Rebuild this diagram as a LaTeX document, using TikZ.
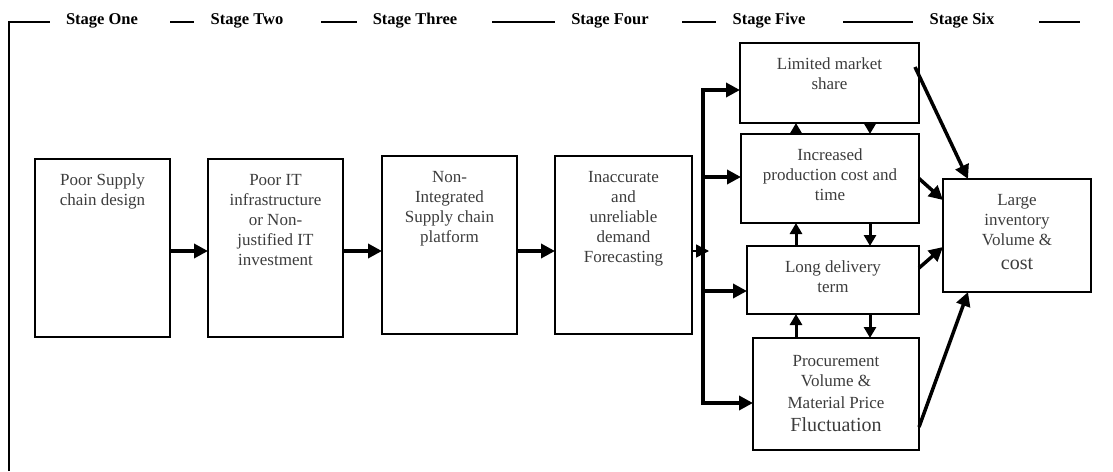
\documentclass[tikz,border=0pt]{standalone}
\usepackage{fontspec}
\setmainfont{Liberation Serif}
\usetikzlibrary{arrows.meta}
\definecolor{ink}{HTML}{3C3C3C}
\begin{document}
\begin{tikzpicture}[x=1pt,y=-1pt,
  box/.style={draw=black,line width=1.3pt,inner sep=0pt,outer sep=0pt},
  txt/.style={anchor=north,inner sep=0pt,align=center,text=ink,font=\fontsize{17}{20}\selectfont},
  stage/.style={font=\fontsize{16.5}{19}\selectfont\bfseries,anchor=base,inner sep=0pt},
  rule/.style={line width=1.5pt},
  heavy/.style={line width=3.5pt,-{Triangle[length=14pt,width=14pt]}},
  link/.style={line width=3pt,-{Triangle[length=11pt,width=12pt]}},
  feed/.style={line width=1.3pt,-{Triangle[length=13pt,width=13pt]}}]
\useasboundingbox (0,0) rectangle (1113,471);

% header frame and stage titles
\draw[rule] (9,471) -- (9,22) -- (50,22);
\draw[rule] (170,22) -- (194,22);
\draw[rule] (321,22) -- (357,22);
\draw[rule] (492,22) -- (555,22);
\draw[rule] (682,22) -- (716,22);
\draw[rule] (843,22) -- (913,22);
\draw[rule] (1039,22) -- (1080,22);
\node[stage] (s1) at (102,24) {Stage One};
\node[stage] (s2) at (247,24) {Stage Two};
\node[stage] (s3) at (415,24) {Stage Three};
\node[stage] (s4) at (610,24) {Stage Four};
\node[stage] (s5) at (769,24) {Stage Five};
\node[stage] (s6) at (962,24) {Stage Six};

% stage one to four
\node[box,minimum width=135pt,minimum height=178pt] (b1) at (102.5,248) {};
\node[box,minimum width=135pt,minimum height=178pt] (b2) at (275.5,248) {};
\node[box,minimum width=135pt,minimum height=178pt] (b3) at (449.5,245) {};
\node[box,minimum width=137pt,minimum height=178pt] (b4) at (623.5,245) {};
\node[txt] (t1) at ([yshift=-12pt]b1.north) {\strut Poor Supply\\chain design};
\node[txt] (t2) at ([yshift=-12pt]b2.north) {\strut Poor IT\\infrastructure\\or Non-\\justified IT\\investment};
\node[txt] (t3) at ([yshift=-12pt]b3.north) {\strut Non-\\Integrated\\Supply chain\\platform};
\node[txt] (t4) at ([yshift=-12pt]b4.north) {\strut Inaccurate\\and\\unreliable\\demand\\Forecasting};

% stage five
\node[box,minimum width=179pt,minimum height=80pt] (m1) at (829.5,83) {};
\node[box,minimum width=178pt,minimum height=89pt] (m2) at (830,178.5) {};
\node[box,minimum width=172pt,minimum height=68pt] (m3) at (833,280) {};
\node[box,minimum width=166pt,minimum height=112pt] (m4) at (836,394) {};
\node[txt] (u1) at ([yshift=-12pt]m1.north) {\strut Limited market\\share};
\node[txt] (u2) at ([yshift=-12pt]m2.north) {\strut Increased\\production cost and\\time};
\node[txt] (u3) at ([yshift=-12pt]m3.north) {\strut Long delivery\\term};
\node[txt] (u4) at ([yshift=-14pt]m4.north) {\strut Procurement\\Volume \&\\[2pt]Material Price\\[3pt]{\fontsize{20}{23}\selectfont Fluctuation}};

% stage six
\node[box,minimum width=148pt,minimum height=113pt] (r) at (1017,235.5) {};
\node[txt] (v) at ([yshift=-12pt]r.north) {\strut Large\\inventory\\Volume \&\\[4pt]{\fontsize{20}{24}\selectfont cost}};

% chain of arrows
\coordinate (row) at (0,251);
\draw[heavy] (b1.east |- row) -- (b2.west |- row);
\draw[heavy] (b2.east |- row) -- (b3.west |- row);
\draw[heavy] (b3.east |- row) -- (b4.west |- row);
\coordinate (busin) at (709,251);
\draw[feed] (b4.east |- row) -- (busin);

% distribution bus
\coordinate (j1) at (703,90);
\coordinate (j2) at (703,177);
\coordinate (j3) at (703,291);
\coordinate (j4) at (703,403);
\draw[line width=3.5pt,{Triangle[length=14pt,width=14pt]}-{Triangle[length=14pt,width=14pt]}]
  (m1.west |- j1) -- (j1) -- (j4) -- (m4.west |- j4);
\draw[heavy] (j2) -- (m2.west |- j2);
\draw[heavy] (j3) -- (m3.west |- j3);

% links between stage five boxes
\coordinate (up) at (796,0);
\coordinate (dn) at (870,0);
\draw[link] (m2.north -| up) -- (m1.south -| up);
\draw[link] (m1.south -| dn) -- (m2.north -| dn);
\draw[link] (m3.north -| up) -- (m2.south -| up);
\draw[link] (m2.south -| dn) -- (m3.north -| dn);
\draw[link] (m4.north -| up) -- (m3.south -| up);
\draw[link] (m3.south -| dn) -- (m4.north -| dn);

% into stage six
\draw[heavy] ([xshift=-4pt,yshift=16pt]m1.east) -- ([xshift=25pt]r.north west);
\draw[heavy] (m2.east) -- ([yshift=-21pt]r.north west);
\draw[heavy] ([yshift=12pt]m3.east) -- ([yshift=45pt]r.south west);
\draw[heavy] ([yshift=-33pt]m4.east) -- ([xshift=25pt]r.south west);
\end{tikzpicture}
\end{document}
